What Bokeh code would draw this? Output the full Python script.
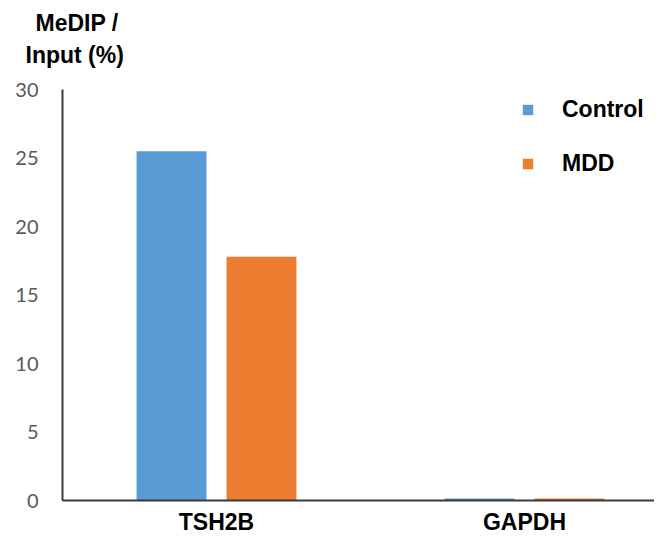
from bokeh.plotting import figure
from bokeh.models import ColumnDataSource, Range1d, FixedTicker, Legend, LegendItem, Title
from bokeh.transform import dodge
from bokeh.embed import file_html
from bokeh.resources import INLINE

categories = ["TSH2B", "GAPDH"]
control = [25.5, 0.15]
mdd = [17.8, 0.15]
y_ticks = [0, 5, 10, 15, 20, 25, 30]

xpos = [i + 0.5 for i in range(len(categories))]
src = ColumnDataSource(dict(x=xpos, control=control, mdd=mdd))

p = figure(width=654, height=537, output_backend="svg", toolbar_location=None,
           x_range=Range1d(0, 592 / 308), y_range=Range1d(0, 30),
           min_border_left=62, min_border_right=0, min_border_top=89, min_border_bottom=34)
p.outline_line_color = None
p.xgrid.grid_line_color = None
p.ygrid.grid_line_color = None

r1 = p.vbar(x=dodge("x", -0.146, range=p.x_range), top="control", width=0.227, source=src,
            fill_color="#5B9BD5", line_color=None)
r2 = p.vbar(x=dodge("x", 0.146, range=p.x_range), top="mdd", width=0.227, source=src,
            fill_color="#ED7D31", line_color=None)

# axes
p.xaxis.ticker = FixedTicker(ticks=xpos)
p.xaxis.major_label_overrides = {x: c for x, c in zip(xpos, categories)}
p.xaxis.major_tick_line_color = None
p.xaxis.major_tick_out = 0
p.xaxis.major_tick_in = 0
p.xaxis.minor_tick_line_color = None
p.xaxis.axis_line_color = "#3a3a3a"
p.xaxis.axis_line_width = 2
p.xaxis.major_label_standoff = 8
p.xaxis.major_label_text_font = "Liberation Sans"
p.xaxis.major_label_text_font_style = "bold"
p.xaxis.major_label_text_font_size = "23px"
p.xaxis.major_label_text_color = "black"

p.yaxis.ticker = FixedTicker(ticks=y_ticks)
p.yaxis.major_tick_line_color = None
p.yaxis.major_tick_out = 0
p.yaxis.major_tick_in = 0
p.yaxis.minor_tick_line_color = None
p.yaxis.axis_line_color = "#3a3a3a"
p.yaxis.axis_line_width = 2
p.yaxis.major_label_standoff = 24
p.yaxis.major_label_text_font = "Lato"
p.yaxis.major_label_text_font_size = "20px"
p.yaxis.major_label_text_color = "#595959"

# y title as two stacked lines above the plot
p.title.visible = False
p.add_layout(Title(text=" ", align="left", standoff=0, text_font_size="14px"), "above")
p.add_layout(Title(text="Input (%)", align="left", offset=-37, standoff=7,
                   text_font="Liberation Sans", text_font_style="bold",
                   text_font_size="23px", text_color="black"), "above")
p.add_layout(Title(text="MeDIP /", align="left", offset=-27, standoff=2,
                   text_font="Liberation Sans", text_font_style="bold",
                   text_font_size="23px", text_color="black"), "above")

legend = Legend(items=[LegendItem(label="Control", renderers=[r1]),
                       LegendItem(label="MDD", renderers=[r2])],
                location=(459, 323), orientation="vertical")
legend.glyph_width = 13
legend.glyph_height = 13
legend.label_height = 27
legend.spacing = 27
legend.padding = 0
legend.margin = 0
legend.label_standoff = 28
legend.label_text_font = "Liberation Sans"
legend.label_text_font_style = "bold"
legend.label_text_font_size = "23px"
legend.label_text_color = "black"
legend.border_line_color = None
legend.background_fill_alpha = 0
p.add_layout(legend)

open("out.html", "w").write(file_html(p, INLINE))
